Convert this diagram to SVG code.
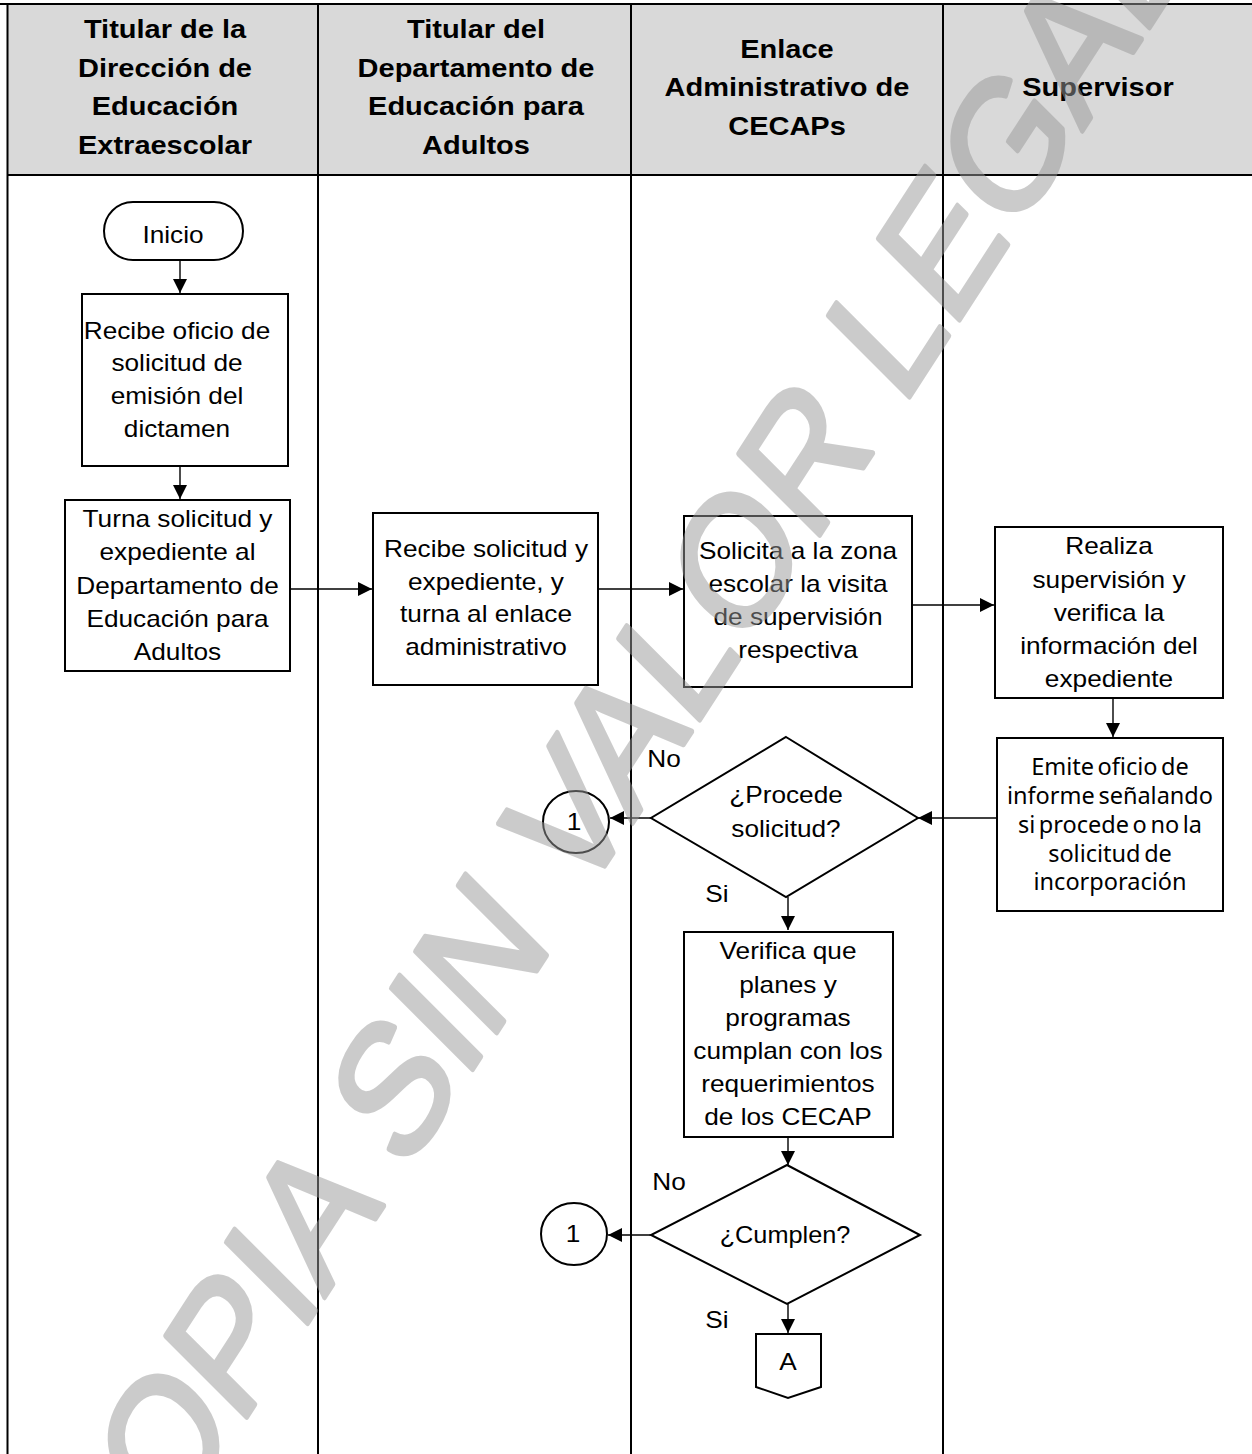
<svg xmlns="http://www.w3.org/2000/svg" width="1252" height="1454" viewBox="0 0 1252 1454">
  <defs>
    <marker id="arrow" markerUnits="userSpaceOnUse" markerWidth="16" markerHeight="16" refX="14" refY="7" orient="auto">
      <path d="M0,0 L14,7 L0,14 Z" fill="#000"/>
    </marker>
    <style>
      .lane { stroke: #000; stroke-width: 2; fill: none; }
      .hdr { font-family: "Liberation Sans", Arial, sans-serif; font-weight: bold; font-size: 25px; text-anchor: middle; fill: #000; }
      .t { font-family: "Liberation Sans", Arial, sans-serif; font-size: 23px; text-anchor: middle; fill: #000; }
      .n { font-family: "Noto Sans", "Open Sans", sans-serif; font-size: 23.5px; text-anchor: middle; fill: #000; }
      .box { fill: #fff; stroke: #000; stroke-width: 2; }
      .edge { stroke: #000; stroke-width: 1.4; fill: none; marker-end: url(#arrow); }
      .wm { font-family: "Liberation Sans", Arial, sans-serif; font-size: 100px; fill: #999; stroke: #999; stroke-width: 3; stroke-linejoin: round; }
    </style>
  </defs>

  <rect x="0" y="0" width="1252" height="1454" fill="#fff"/>

  <!-- swimlane frame -->
  <g id="lanes">
    <rect x="7" y="4" width="1245" height="171" fill="#d9d9d9"/>
    <line class="lane" x1="0" y1="4" x2="1252" y2="4" stroke-width="3"/>
    <line class="lane" x1="7" y1="175" x2="1252" y2="175" stroke-width="3"/>
    <line class="lane" x1="7.5" y1="3" x2="7.5" y2="1454" stroke-width="3"/>
    <line class="lane" x1="318" y1="4" x2="318" y2="1454"/>
    <line class="lane" x1="631" y1="4" x2="631" y2="1454"/>
    <line class="lane" x1="943" y1="4" x2="943" y2="1454"/>
  </g>

  <!-- lane titles -->
  <g id="header">
    <text class="hdr" transform="translate(165 0) scale(1.16 1)"><tspan x="0" y="38">Titular de la</tspan><tspan x="0" y="77">Dirección de</tspan><tspan x="0" y="115">Educación</tspan><tspan x="0" y="154">Extraescolar</tspan></text>
    <text class="hdr" transform="translate(476 0) scale(1.16 1)"><tspan x="0" y="38">Titular del</tspan><tspan x="0" y="77">Departamento de</tspan><tspan x="0" y="115">Educación para</tspan><tspan x="0" y="154">Adultos</tspan></text>
    <text class="hdr" transform="translate(787 0) scale(1.16 1)"><tspan x="0" y="58">Enlace</tspan><tspan x="0" y="96">Administrativo de</tspan><tspan x="0" y="135">CECAPs</tspan></text>
    <text class="hdr" transform="translate(1098 0) scale(1.16 1)"><tspan x="0" y="96">Supervisor</tspan></text>
  </g>

  <!-- connectors -->
  <g id="connectors">
    <line class="edge" x1="180" y1="260" x2="180" y2="293"/>
    <line class="edge" x1="180" y1="466" x2="180" y2="499"/>
    <line class="edge" x1="290" y1="589" x2="372" y2="589"/>
    <line class="edge" x1="598" y1="589" x2="683" y2="589"/>
    <line class="edge" x1="912" y1="605" x2="994" y2="605"/>
    <line class="edge" x1="1113" y1="698" x2="1113" y2="737"/>
    <line class="edge" x1="997" y1="818" x2="918" y2="818"/>
    <line class="edge" x1="651" y1="818" x2="610" y2="818"/>
    <line class="edge" x1="788" y1="897" x2="788" y2="930"/>
    <line class="edge" x1="788" y1="1137" x2="788" y2="1165"/>
    <line class="edge" x1="651" y1="1235" x2="608" y2="1235"/>
    <line class="edge" x1="788" y1="1304" x2="788" y2="1333"/>
  </g>

  <g id="inicio">
    <rect class="box" x="104" y="202" width="139" height="58" rx="29" ry="29"/>
    <text class="t" transform="translate(173 0) scale(1.14 1)"><tspan x="0" y="243">Inicio</tspan></text>
  </g>

  <g id="recibe-oficio">
    <rect class="box" x="82" y="294" width="206" height="172"/>
    <text class="t" transform="translate(177 0) scale(1.14 1)"><tspan x="0" y="339">Recibe oficio de</tspan><tspan x="0" y="371">solicitud de</tspan><tspan x="0" y="404">emisión del</tspan><tspan x="0" y="437">dictamen</tspan></text>
  </g>

  <g id="turna-solicitud">
    <rect class="box" x="65" y="500" width="225" height="171"/>
    <text class="t" transform="translate(177.5 0) scale(1.14 1)"><tspan x="0" y="527">Turna solicitud y</tspan><tspan x="0" y="560">expediente al</tspan><tspan x="0" y="594">Departamento de</tspan><tspan x="0" y="627">Educación para</tspan><tspan x="0" y="660">Adultos</tspan></text>
  </g>

  <g id="recibe-solicitud">
    <rect class="box" x="373" y="513" width="225" height="172"/>
    <text class="t" transform="translate(486 0) scale(1.14 1)"><tspan x="0" y="557">Recibe solicitud y</tspan><tspan x="0" y="590">expediente, y</tspan><tspan x="0" y="622">turna al enlace</tspan><tspan x="0" y="655">administrativo</tspan></text>
  </g>

  <g id="solicita-visita">
    <rect class="box" x="684" y="516" width="228" height="171"/>
    <text class="t" transform="translate(798 0) scale(1.14 1)"><tspan x="0" y="559">Solicita a la zona</tspan><tspan x="0" y="592">escolar la visita</tspan><tspan x="0" y="625">de supervisión</tspan><tspan x="0" y="658">respectiva</tspan></text>
  </g>

  <g id="realiza-supervision">
    <rect class="box" x="995" y="527" width="228" height="171"/>
    <text class="t" transform="translate(1109 0) scale(1.14 1)"><tspan x="0" y="554">Realiza</tspan><tspan x="0" y="588">supervisión y</tspan><tspan x="0" y="621">verifica la</tspan><tspan x="0" y="654">información del</tspan><tspan x="0" y="687">expediente</tspan></text>
  </g>

  <g id="emite-oficio">
    <rect class="box" x="997" y="738" width="226" height="173"/>
    <text class="n" word-spacing="-2.5"><tspan x="1110" y="775">Emite oficio de</tspan><tspan x="1110" y="804">informe señalando</tspan><tspan x="1110" y="833">si procede o no la</tspan><tspan x="1110" y="862">solicitud de</tspan><tspan x="1110" y="890">incorporación</tspan></text>
  </g>

  <g id="procede">
    <polygon class="box" points="786,737 918,818 786,897 651,818" stroke-width="1.6"/>
    <text class="t" transform="translate(786 0) scale(1.14 1)"><tspan x="0" y="803">¿Procede</tspan><tspan x="0" y="837">solicitud?</tspan></text>
    <text class="t" transform="translate(664 0) scale(1.14 1)"><tspan x="0" y="767">No</tspan></text>
    <text class="t" transform="translate(717 0) scale(1.14 1)"><tspan x="0" y="902">Si</tspan></text>
  </g>

  <g id="conector-1a">
    <ellipse class="box" cx="576" cy="822" rx="33" ry="31" stroke-width="1.6"/>
    <text class="t" transform="translate(574 0) scale(1.14 1)"><tspan x="0" y="830">1</tspan></text>
  </g>

  <g id="verifica-planes">
    <rect class="box" x="684" y="932" width="209" height="205"/>
    <text class="t" transform="translate(788 0) scale(1.14 1)"><tspan x="0" y="959">Verifica que</tspan><tspan x="0" y="993">planes y</tspan><tspan x="0" y="1026">programas</tspan><tspan x="0" y="1059">cumplan con los</tspan><tspan x="0" y="1092">requerimientos</tspan><tspan x="0" y="1125">de los CECAP</tspan></text>
  </g>

  <g id="cumplen">
    <polygon class="box" points="787,1165 920,1235 787,1304 651,1235" stroke-width="1.6"/>
    <text class="t" transform="translate(785 0) scale(1.1 1)" font-size="21"><tspan x="0" y="1243">¿Cumplen?</tspan></text>
    <text class="t" transform="translate(669 0) scale(1.14 1)"><tspan x="0" y="1190">No</tspan></text>
    <text class="t" transform="translate(717 0) scale(1.14 1)"><tspan x="0" y="1328">Si</tspan></text>
  </g>

  <g id="conector-1b">
    <ellipse class="box" cx="574" cy="1234" rx="33" ry="31" stroke-width="1.6"/>
    <text class="t" transform="translate(573 0) scale(1.14 1)"><tspan x="0" y="1242">1</tspan></text>
  </g>

  <g id="conector-a">
    <path class="box" d="M756,1334 H821 V1387 L788,1398 L756,1387 Z" stroke-width="1.6"/>
    <text class="t" transform="translate(788 0) scale(1.14 1)"><tspan x="0" y="1370">A</tspan></text>
  </g>

  <!-- watermark, composited as one translucent layer -->
  <g opacity="0.5">
    <text class="wm" transform="matrix(0.899 -1.384 1.181 1.181 104.5 1636.1)" x="0" y="0">COPIA SIN VALOR LEGAL</text>
  </g>
</svg>
